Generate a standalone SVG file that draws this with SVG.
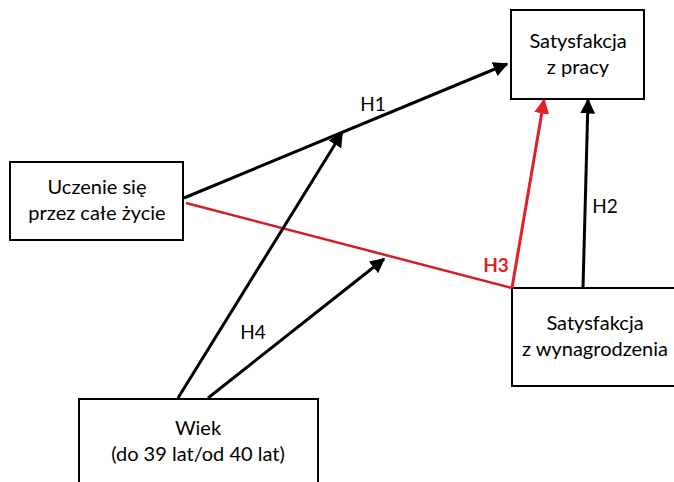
<svg xmlns="http://www.w3.org/2000/svg" width="674" height="482" viewBox="0 0 674 482">
<defs>
<style>
.box{fill:#fff;stroke:#000;stroke-width:2}
.t{font-family:Lato,"Open Sans","Liberation Sans",sans-serif;font-size:20px;fill:#000;text-anchor:middle}
.lbl{font-family:Lato,"Open Sans","Liberation Sans",sans-serif;font-size:19px;fill:#000;text-anchor:middle}
.blk{stroke:#000;stroke-width:3;fill:none}
.red{stroke:#e31e24;stroke-width:3;fill:none}
</style>
<marker id="ab" viewBox="0 0 10 10" refX="9" refY="5" markerWidth="5" markerHeight="5" orient="auto" markerUnits="strokeWidth"><path d="M0,0L10,5L0,10z" fill="#000"/></marker>
<marker id="ar" viewBox="0 0 10 10" refX="9" refY="5" markerWidth="5" markerHeight="5" orient="auto" markerUnits="strokeWidth"><path d="M0,0L10,5L0,10z" fill="#e31e24"/></marker>
</defs>
<rect width="674" height="482" fill="#fff"/>
<g id="n-praca"><rect class="box" x="511" y="10" width="133" height="89"/><text class="t" x="578" y="48">Satysfakcja</text><text class="t" x="578" y="74">z pracy</text></g>
<g id="n-uczenie"><rect class="box" x="10" y="162" width="173" height="78"/><text class="t" x="97" y="194">Uczenie się</text><text class="t" x="97" y="220">przez całe życie</text></g>
<g id="n-wynagrodzenie"><rect class="box" x="512" y="288" width="170" height="98"/><text class="t" x="595" y="330">Satysfakcja</text><text class="t" x="595" y="356">z wynagrodzenia</text></g>
<g id="n-wiek"><rect class="box" x="79" y="399" width="239" height="90"/><text class="t" x="198" y="435">Wiek</text><text class="t" x="198" y="461">(do 39 lat/od 40 lat)</text></g>
<g id="connectors">
<line class="blk" x1="184" y1="198" x2="507" y2="64" marker-end="url(#ab)"/>
<line x1="186" y1="203" x2="512" y2="288" stroke="#d01e2a" stroke-width="2.5"/>
<line class="red" x1="512" y1="288" x2="544" y2="100" marker-end="url(#ar)"/>
<line class="blk" x1="583" y1="288" x2="588" y2="100" marker-end="url(#ab)"/>
<line class="blk" x1="178" y1="398" x2="342" y2="133" marker-end="url(#ab)"/>
<line class="blk" x1="208" y1="398" x2="384" y2="259" marker-end="url(#ab)"/>
<text class="lbl" x="373" y="111">H1</text>
<text class="lbl" x="605" y="213">H2</text>
<text class="lbl" x="496" y="272" style="fill:#e31e24;font-weight:bold">H3</text>
<text class="lbl" x="253" y="339">H4</text>
</g>
</svg>
